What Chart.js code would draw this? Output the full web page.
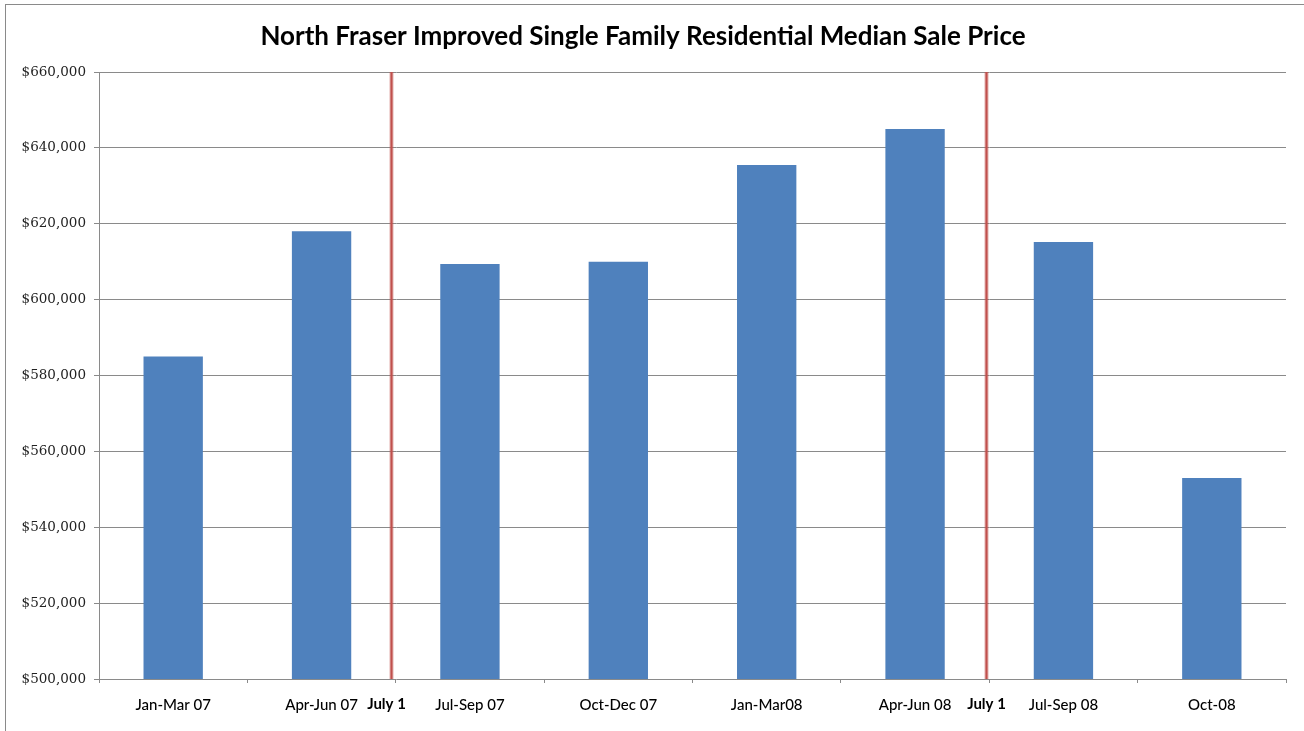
<!DOCTYPE html>
<html>
<head>
<meta charset="utf-8">
<script src="https://cdn.jsdelivr.net/npm/chart.js@4"></script>
<style>
  html, body { margin: 0; padding: 0; background: #fff; }
  #wrap { width: 1304px; height: 731px; position: relative; }
</style>
</head>
<body>
<div id="wrap"><canvas id="c" width="1304" height="731"></canvas></div>
<script>
const categories = ["Jan-Mar 07", "Apr-Jun 07", "Jul-Sep 07", "Oct-Dec 07", "Jan-Mar08", "Apr-Jun 08", "Jul-Sep 08", "Oct-08"];
const medianPrices = [585000, 618000, 609400, 610000, 635500, 645000, 615200, 553000];
const yTickMin = 500000;
const yTickMax = 660000;
const yTickStep = 20000;
const dividerPositions = [1.47, 5.48];   // in category-index units
const dividerLabels = ["July 1", "July 1"];
const titleText = "North Fraser Improved Single Family Residential Median Sale Price";

const frame = {
  id: 'frame',
  beforeDraw(chart) {
    const ctx = chart.ctx;
    ctx.save();
    ctx.fillStyle = '#fff';
    ctx.fillRect(0, 0, chart.width, chart.height);
    ctx.strokeStyle = '#8a8a8a';
    ctx.lineWidth = 1;
    ctx.strokeRect(5.5, 4.5, chart.width + 20, chart.height + 20);
    ctx.restore();
  }
};

const dividers = {
  id: 'dividers',
  afterDatasetsDraw(chart) {
    const ctx = chart.ctx;
    const xs = chart.scales.x;
    const area = chart.chartArea;
    ctx.save();
    dividerPositions.forEach((p, i) => {
      const x = Math.round(xs.getPixelForValue(p)) + 0.5;
      ctx.strokeStyle = 'rgba(192,80,77,0.45)';
      ctx.lineWidth = 4;
      ctx.beginPath(); ctx.moveTo(x, area.top); ctx.lineTo(x, area.bottom); ctx.stroke();
      ctx.strokeStyle = '#C0504D';
      ctx.lineWidth = 2;
      ctx.beginPath(); ctx.moveTo(x, area.top); ctx.lineTo(x, area.bottom); ctx.stroke();
      ctx.fillStyle = '#000';
      ctx.font = 'bold 15px Lato';
      ctx.textAlign = 'center';
      ctx.textBaseline = 'middle';
      ctx.fillText(dividerLabels[i], x - (i === 0 ? 5 : 0), 704);
    });
    ctx.restore();
  }
};

new Chart(document.getElementById('c'), {
  type: 'bar',
  data: {
    labels: categories,
    datasets: [{
      data: medianPrices,
      backgroundColor: '#4F81BD',
      borderWidth: 0,
      categoryPercentage: 1.0,
      barPercentage: 0.4
    }]
  },
  options: {
    responsive: false,
    animation: false,
    layout: { padding: { left: 0, right: 18, top: 0, bottom: 0 } },
    plugins: {
      legend: { display: false },
      tooltip: { enabled: false },
      title: {
        display: true,
        text: titleText,
        color: '#000',
        font: { family: 'Lato', weight: 'bold', size: 26, lineHeight: 1.2 },
        padding: { top: 21, bottom: 19.8 }
      }
    },
    scales: {
      x: {
        grid: { drawOnChartArea: false, drawTicks: true, tickLength: 4, color: '#8a8a8a', offset: true },
        border: { display: false },
        ticks: { color: '#000', font: { family: 'Lato', size: 15, weight: '500' }, padding: 13 },
        afterFit(s) { s.height = 52; }
      },
      y: {
        min: yTickMin,
        max: yTickMax,
        ticks: {
          stepSize: yTickStep,
          color: '#222',
          padding: 8,
          font: { family: 'DejaVu Serif', size: 13.5 },
          callback: v => '$' + v.toLocaleString('en-US')
        },
        grid: { color: '#8a8a8a', lineWidth: 1, tickLength: 5 },
        border: { display: true, color: '#8a8a8a' },
        afterFit(s) { s.width = 99; }
      }
    }
  },
  plugins: [frame, dividers]
});
</script>
</body>
</html>
